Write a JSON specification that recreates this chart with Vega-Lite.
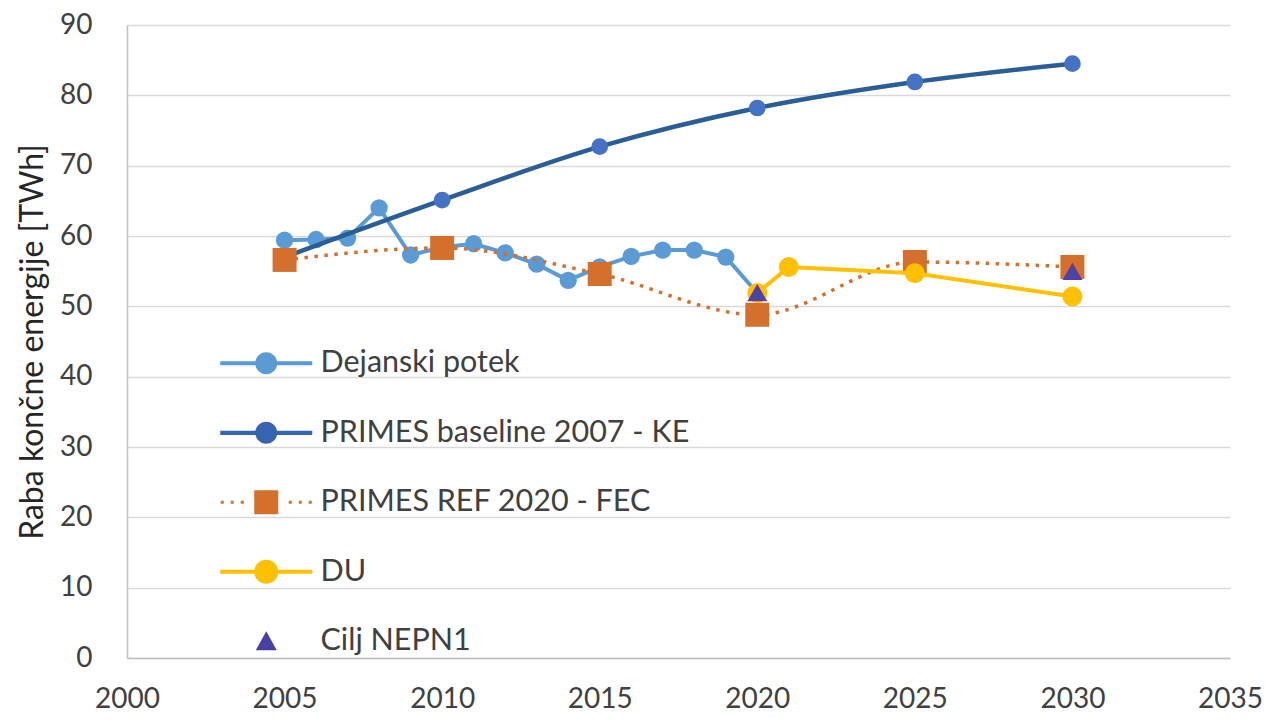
{
  "$schema": "https://vega.github.io/schema/vega-lite/v6.json",
  "width": 1103,
  "height": 633,
  "autosize": {"type": "none"},
  "padding": {"left": 127, "top": 25, "right": 36, "bottom": 62},
  "background": "white",
  "config": {"view": {"stroke": null}, "font": "Lato"},
  "data": {
    "values": [
      {"series": "Dejanski potek", "year": 2005, "value": 59.4},
      {"series": "Dejanski potek", "year": 2006, "value": 59.5},
      {"series": "Dejanski potek", "year": 2007, "value": 59.7},
      {"series": "Dejanski potek", "year": 2008, "value": 64.0},
      {"series": "Dejanski potek", "year": 2009, "value": 57.3},
      {"series": "Dejanski potek", "year": 2010, "value": 58.4},
      {"series": "Dejanski potek", "year": 2011, "value": 58.9},
      {"series": "Dejanski potek", "year": 2012, "value": 57.6},
      {"series": "Dejanski potek", "year": 2013, "value": 56.0},
      {"series": "Dejanski potek", "year": 2014, "value": 53.7},
      {"series": "Dejanski potek", "year": 2015, "value": 55.6},
      {"series": "Dejanski potek", "year": 2016, "value": 57.1},
      {"series": "Dejanski potek", "year": 2017, "value": 58.0},
      {"series": "Dejanski potek", "year": 2018, "value": 58.0},
      {"series": "Dejanski potek", "year": 2019, "value": 57.0},
      {"series": "Dejanski potek", "year": 2020, "value": 51.9},
      {"series": "PRIMES baseline 2007 - KE", "year": 2005, "value": 57.0},
      {"series": "PRIMES baseline 2007 - KE", "year": 2010, "value": 65.1},
      {"series": "PRIMES baseline 2007 - KE", "year": 2015, "value": 72.7},
      {"series": "PRIMES baseline 2007 - KE", "year": 2020, "value": 78.2},
      {"series": "PRIMES baseline 2007 - KE", "year": 2025, "value": 81.9},
      {"series": "PRIMES baseline 2007 - KE", "year": 2030, "value": 84.5},
      {"series": "PRIMES REF 2020 - FEC", "year": 2005, "value": 56.6},
      {"series": "PRIMES REF 2020 - FEC", "year": 2010, "value": 58.3},
      {"series": "PRIMES REF 2020 - FEC", "year": 2015, "value": 54.6},
      {"series": "PRIMES REF 2020 - FEC", "year": 2020, "value": 48.8},
      {"series": "PRIMES REF 2020 - FEC", "year": 2025, "value": 56.3},
      {"series": "PRIMES REF 2020 - FEC", "year": 2030, "value": 55.6},
      {"series": "DU", "year": 2020, "value": 51.9},
      {"series": "DU", "year": 2021, "value": 55.6},
      {"series": "DU", "year": 2025, "value": 54.7},
      {"series": "DU", "year": 2030, "value": 51.4},
      {"series": "Cilj NEPN1", "year": 2020, "value": 51.9},
      {"series": "Cilj NEPN1", "year": 2030, "value": 54.9}
    ]
  },
  "encoding": {
    "x": {
      "field": "year", "type": "quantitative",
      "scale": {"domain": [2000, 2035], "nice": false, "zero": false},
      "axis": {
        "values": [2000, 2005, 2010, 2015, 2020, 2025, 2030, 2035],
        "format": "d", "grid": false, "ticks": false,
        "domainColor": "#BFBFBF", "domainWidth": 1.5,
        "labelFontSize": 28, "labelColor": "#404040", "labelPadding": 27,
        "labelFlush": false, "labelOverlap": false, "title": null
      }
    },
    "y": {
      "field": "value", "type": "quantitative",
      "scale": {"domain": [0, 90], "nice": false},
      "axis": {
        "values": [0, 10, 20, 30, 40, 50, 60, 70, 80, 90],
        "grid": true, "gridColor": "#D9D9D9", "gridWidth": 1.5,
        "ticks": false, "domainColor": "#BFBFBF", "domainWidth": 1.5,
        "labelFontSize": 28, "labelColor": "#404040", "labelPadding": 35,
        "labelOverlap": false,
        "title": "Raba končne energije [TWh]", "titleFontSize": 32,
        "titleFontWeight": "normal", "titleColor": "#262626", "titlePadding": 10
      }
    }
  },
  "layer": [
    {
      "transform": [{"filter": "datum.series === 'Dejanski potek'"}],
      "mark": {"type": "line", "color": "#5B9BD5", "strokeWidth": 4}
    },
    {
      "transform": [{"filter": "datum.series === 'Dejanski potek'"}],
      "mark": {"type": "point", "shape": "circle", "filled": true, "color": "#5B9BD5", "size": 300, "opacity": 1, "strokeWidth": 0}
    },
    {
      "transform": [{"filter": "datum.series === 'PRIMES baseline 2007 - KE'"}],
      "mark": {"type": "line", "color": "#2A5E96", "strokeWidth": 4.5, "interpolate": "monotone"}
    },
    {
      "transform": [{"filter": "datum.series === 'PRIMES baseline 2007 - KE'"}],
      "mark": {"type": "point", "shape": "circle", "filled": true, "color": "#4472C4", "size": 280, "opacity": 1, "strokeWidth": 0}
    },
    {
      "transform": [{"filter": "datum.series === 'PRIMES REF 2020 - FEC'"}],
      "mark": {"type": "line", "color": "#D4702B", "strokeWidth": 3.5, "strokeDash": [3.5, 6.5], "interpolate": "monotone"}
    },
    {
      "transform": [{"filter": "datum.series === 'PRIMES REF 2020 - FEC'"}],
      "mark": {"type": "point", "shape": "square", "filled": true, "color": "#D4702B", "size": 576, "opacity": 1, "strokeWidth": 0}
    },
    {
      "transform": [{"filter": "datum.series === 'DU'"}],
      "mark": {"type": "line", "color": "#FFC000", "strokeWidth": 4}
    },
    {
      "transform": [{"filter": "datum.series === 'DU'"}],
      "mark": {"type": "point", "shape": "circle", "filled": true, "color": "#FFC000", "size": 400, "opacity": 1, "strokeWidth": 0}
    },
    {
      "transform": [{"filter": "datum.series === 'Cilj NEPN1'"}],
      "mark": {"type": "point", "shape": "triangle-up", "filled": true, "color": "#3F4AA8", "stroke": "#7030A0", "strokeWidth": 1.5, "size": 300, "opacity": 1}
    },
    {
      "transform": [{"filter": "datum.year < 0"}],
      "mark": {"type": "point", "filled": true, "opacity": 1, "strokeWidth": 0, "size": 625},
      "encoding": {
        "color": {
          "field": "series", "type": "nominal",
          "scale": {
            "domain": ["Dejanski potek", "PRIMES baseline 2007 - KE", "PRIMES REF 2020 - FEC", "DU", "Cilj NEPN1"],
            "range": ["#5B9BD5", "#3565B0", "#D4702B", "#FFC000", "#4A3FA5"]
          },
          "legend": {
            "title": null, "orient": "none", "legendX": 124, "legendY": 323,
            "direction": "vertical", "padding": 0, "symbolSize": 625,
            "symbolStrokeWidth": 0, "symbolOpacity": 1, "labelFontSize": 30.5, "labelColor": "#404040",
            "labelOffset": 39, "rowPadding": 38.5, "labelLimit": 600
          }
        },
        "shape": {
          "field": "series", "type": "nominal",
          "scale": {
            "domain": ["Dejanski potek", "PRIMES baseline 2007 - KE", "PRIMES REF 2020 - FEC", "DU", "Cilj NEPN1"],
            "range": [
              "M-3.68,-0.16H-0.7V0.16H-3.68Z M0.7,-0.16H3.68V0.16H0.7Z M0.88,0A0.88,0.88 0 1,1 -0.88,0A0.88,0.88 0 1,1 0.88,0Z",
              "M-3.68,-0.17H-0.7V0.17H-3.68Z M0.7,-0.17H3.68V0.17H0.7Z M0.88,0A0.88,0.88 0 1,1 -0.88,0A0.88,0.88 0 1,1 0.88,0Z",
              "M-0.96,-0.96H0.96V0.96H-0.96Z M-3.64,-0.12h0.24v0.24h-0.24Z M-2.84,-0.12h0.24v0.24h-0.24Z M-2.04,-0.12h0.24v0.24h-0.24Z M1.8,-0.12h0.24v0.24h-0.24Z M2.6,-0.12h0.24v0.24h-0.24Z M3.4,-0.12h0.24v0.24h-0.24Z",
              "M-3.68,-0.16H-0.8V0.16H-3.68Z M0.8,-0.16H3.68V0.16H0.8Z M0.96,0A0.96,0.96 0 1,1 -0.96,0A0.96,0.96 0 1,1 0.96,0Z",
              "M0,-0.8L0.84,0.72L-0.84,0.72Z"
            ]
          },
          "legend": {
            "title": null, "orient": "none", "legendX": 124, "legendY": 323,
            "direction": "vertical", "padding": 0, "symbolSize": 625,
            "symbolStrokeWidth": 0, "symbolOpacity": 1, "labelFontSize": 30.5, "labelColor": "#404040",
            "labelOffset": 39, "rowPadding": 38.5, "labelLimit": 600
          }
        }
      }
    }
  ]
}
